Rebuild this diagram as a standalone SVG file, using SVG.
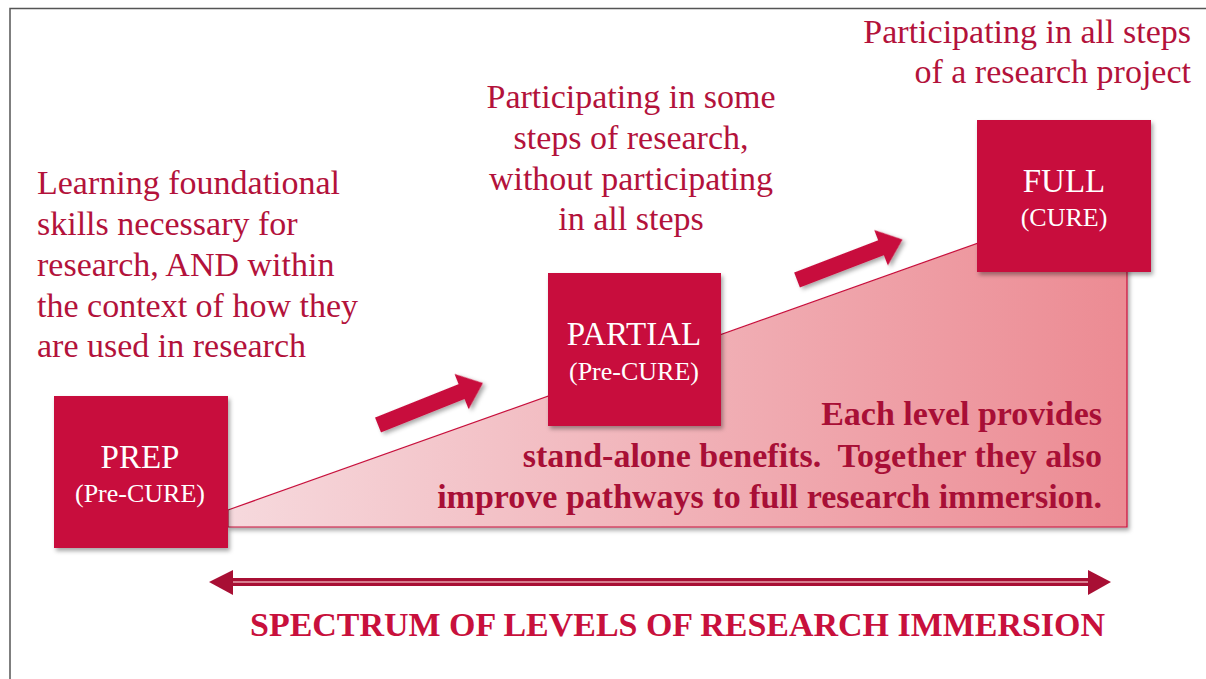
<svg xmlns="http://www.w3.org/2000/svg" width="1206" height="679" viewBox="0 0 1206 679">
<defs>
<linearGradient id="ramp" x1="228" y1="0" x2="1127" y2="0" gradientUnits="userSpaceOnUse">
<stop offset="0" stop-color="#f6d9dd"/>
<stop offset="1" stop-color="#ec8b93"/>
</linearGradient>
<filter id="sh" x="-20%" y="-20%" width="140%" height="140%">
<feDropShadow dx="2" dy="3" stdDeviation="2" flood-color="#000" flood-opacity="0.35"/>
</filter>
<path id="blk" d="M0,-8 H90 V-19 L113,0 L90,19 V8 H0 Z"/>
</defs>
<style>
.box{fill:#c8103c;filter:url(#sh)}
.lbl{font-family:"Liberation Serif","Times New Roman",serif;fill:#ffffff;text-anchor:middle}
.txt{font-family:"Liberation Serif","Times New Roman",serif;font-size:34px;fill:#b3123b}
.bold{font-family:"Liberation Serif","Times New Roman",serif;font-size:34px;font-weight:bold;fill:#a80f36;text-anchor:end;white-space:pre}
</style>
<rect width="1206" height="679" fill="#ffffff"/>
<path d="M10,679 V8.5 H1206" fill="none" stroke="#555555" stroke-width="1.5"/>

<g id="ramp-area">
<polygon points="228,510 1127,190 1127,527 228,527" fill="url(#ramp)" stroke="#c8103c" stroke-width="1.2" filter="url(#sh)"/>
</g>

<g id="connectors">
<use href="#blk" transform="translate(378,425) rotate(-21.8)" fill="#c8103c" filter="url(#sh)"/>
<use href="#blk" transform="translate(797,280) rotate(-21)" fill="#c8103c" filter="url(#sh)"/>
<g id="spectrum-arrow">
<rect x="228" y="578" width="865" height="8" fill="#a80f34"/>
<line x1="232" y1="582" x2="1089" y2="582" stroke="#e8a3ae" stroke-width="1.6"/>
<polygon points="209,582 233,570 233,595" fill="#a80f34"/>
<polygon points="1111,582 1088,570 1088,595" fill="#a80f34"/>
</g>
</g>

<g id="prep">
<rect class="box" x="54" y="396" width="174" height="152"/>
<text class="lbl" x="140" y="468" font-size="33">PREP</text>
<text class="lbl" x="140" y="502" font-size="26">(Pre-CURE)</text>
</g>

<g id="partial">
<rect class="box" x="548" y="273" width="173" height="153"/>
<text class="lbl" x="634" y="345" font-size="33">PARTIAL</text>
<text class="lbl" x="634" y="380" font-size="26">(Pre-CURE)</text>
</g>

<g id="full">
<rect class="box" x="977" y="120" width="174" height="152"/>
<text class="lbl" x="1064" y="192" font-size="33">FULL</text>
<text class="lbl" x="1064" y="226" font-size="26">(CURE)</text>
</g>

<g id="prep-desc">
<text class="txt" x="37" y="194">Learning foundational</text>
<text class="txt" x="37" y="235">skills necessary for</text>
<text class="txt" x="37" y="276">research, AND within</text>
<text class="txt" x="37" y="317">the context of how they</text>
<text class="txt" x="37" y="357">are used in research</text>
</g>

<g id="partial-desc" text-anchor="middle">
<text class="txt" x="631" y="108">Participating in some</text>
<text class="txt" x="631" y="149">steps of research,</text>
<text class="txt" x="631" y="190">without participating</text>
<text class="txt" x="631" y="230">in all steps</text>
</g>

<g id="full-desc" text-anchor="end">
<text class="txt" x="1191" y="43">Participating in all steps</text>
<text class="txt" x="1191" y="83">of a research project</text>
</g>

<g id="benefits">
<text class="bold" x="1102" y="425">Each level provides</text>
<text class="bold" x="1102" y="467" xml:space="preserve">stand-alone benefits.  Together they also</text>
<text class="bold" x="1102" y="508">improve pathways to full research immersion.</text>
</g>

<g id="spectrum-title">
<text x="250" y="636" font-family="'Liberation Serif','Times New Roman',serif" font-size="34" font-weight="bold" fill="#c8103c" textLength="855" lengthAdjust="spacingAndGlyphs">SPECTRUM OF LEVELS OF RESEARCH IMMERSION</text>
</g>
</svg>
